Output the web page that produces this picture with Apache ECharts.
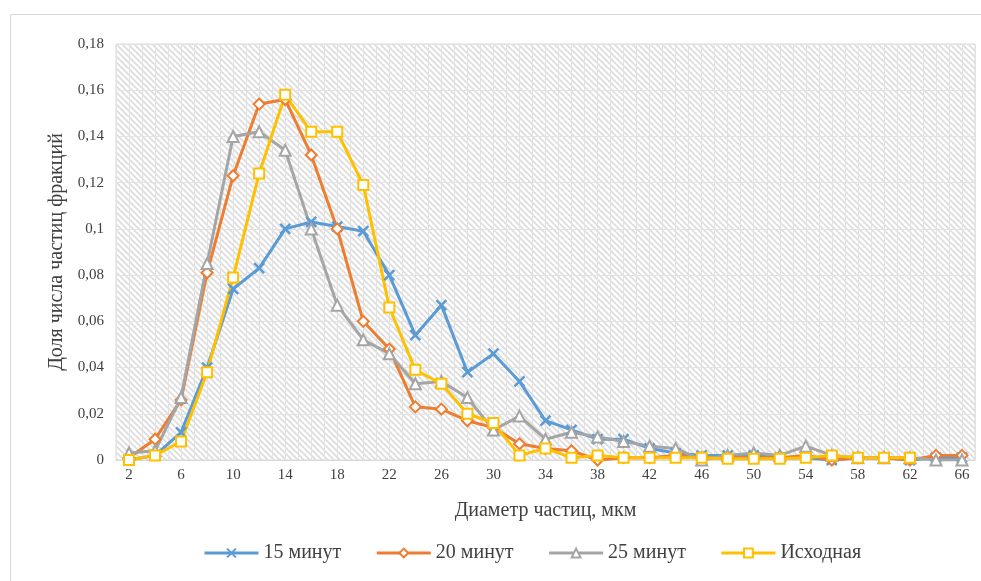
<!DOCTYPE html>
<html>
<head>
<meta charset="utf-8">
<script src="https://cdn.jsdelivr.net/npm/echarts@6/dist/echarts.min.js"></script>
<style>
  html, body { margin: 0; padding: 0; background: #fff; }
  #chart { width: 981px; height: 581px; }
</style>
</head>
<body>
<div id="chart"></div>
<script>
// диаметр частиц, мкм
var diameters = [2,4,6,8,10,12,14,16,18,20,22,24,26,28,30,32,34,36,38,40,42,44,46,48,50,52,54,56,58,60,62,64,66];

var min15 = [0,0.002,0.012,0.04,0.074,0.083,0.1,0.103,0.101,0.099,0.08,0.054,0.067,0.038,0.046,0.034,0.017,0.013,0.009,0.009,0.005,0.003,0.002,0.002,0.002,0.001,0.001,0,0.001,0.001,0,0.001,0.001];
var min20 = [0.001,0.009,0.026,0.081,0.123,0.154,0.156,0.132,0.1,0.06,0.048,0.023,0.022,0.017,0.014,0.007,0.005,0.004,0,0.001,0.001,0.002,0.001,0.001,0.001,0.001,0.002,0,0.001,0.001,0,0.002,0.002];
var min25 = [0.003,0.004,0.027,0.085,0.14,0.142,0.134,0.1,0.067,0.052,0.046,0.033,0.034,0.027,0.013,0.019,0.009,0.012,0.01,0.008,0.006,0.005,0,0.002,0.003,0.002,0.006,0.002,0.001,0.001,0.001,0,0];
var initial = [0,0.002,0.008,0.038,0.079,0.124,0.158,0.142,0.142,0.119,0.066,0.039,0.033,0.02,0.016,0.002,0.005,0.001,0.002,0.001,0.001,0.001,0.001,0.0005,0.0005,0.0005,0.001,0.002,0.001,0.001,0.001,null,null];

// половинки категорий - для вертикальной сетки
var halfCats = [];
for (var i = 0; i < diameters.length * 2; i++) halfCats.push(i);

// штриховка фона области построения
var tile = document.createElement('canvas');
tile.width = 6; tile.height = 6;
var tctx = tile.getContext('2d');
tctx.fillStyle = '#ffffff';
tctx.fillRect(0, 0, 6, 6);
tctx.strokeStyle = '#dcdcdc';
tctx.lineWidth = 1.6;
tctx.beginPath();
tctx.moveTo(-1, -1); tctx.lineTo(7, 7);
tctx.moveTo(-4, 2); tctx.lineTo(2, 8);
tctx.moveTo(2, -4); tctx.lineTo(8, 2);
tctx.stroke();

var font = 'Liberation Serif';
var txtColor = '#404040';
var crossPath = 'path://M0,0L10,10M10,0L0,10';

var chart = echarts.init(document.getElementById('chart'));
var option = {
  backgroundColor: '#fff',
  animation: false,
  textStyle: { fontFamily: font },
  graphic: [{
    type: 'rect',
    shape: { x: 10.5, y: 14.5, width: 990, height: 600 },
    style: { fill: 'none', stroke: '#d9d9d9', lineWidth: 1 },
    z: -10
  }],
  grid: {
    left: 116, right: 6, top: 44, bottom: 121,
    show: true,
    backgroundColor: { image: tile, repeat: 'repeat' },
    borderColor: '#d9d9d9',
    borderWidth: 1
  },
  legend: {
    bottom: 13,
    left: 198,
    itemWidth: 54,
    itemHeight: 11,
    itemGap: 34,
    lineStyle: { width: 3 },
    textStyle: { fontFamily: font, fontSize: 20, color: txtColor },
    data: ['15 минут', '20 минут', '25 минут', 'Исходная']
  },
  xAxis: [{
    type: 'category',
    data: diameters,
    boundaryGap: true,
    name: 'Диаметр частиц, мкм',
    nameLocation: 'middle',
    nameGap: 41,
    nameTextStyle: { fontFamily: font, fontSize: 20, color: txtColor },
    axisLine: { lineStyle: { color: '#d9d9d9' } },
    axisTick: { show: false },
    axisLabel: { interval: 1, fontFamily: font, fontSize: 15, color: txtColor, margin: 8 },
    splitLine: { show: false }
  }, {
    type: 'category',
    data: halfCats,
    position: 'bottom',
    boundaryGap: true,
    axisLine: { show: false },
    axisTick: { show: false },
    axisLabel: { show: false },
    splitLine: { show: true, interval: 0, lineStyle: { color: '#e3e3e3', width: 1 } }
  }],
  yAxis: {
    type: 'value',
    min: 0, max: 0.18, interval: 0.02,
    name: 'Доля числа частиц фракций',
    nameLocation: 'middle',
    nameGap: 44,
    nameTextStyle: { fontFamily: font, fontSize: 20, color: txtColor },
    axisLine: { show: false },
    axisTick: { show: false },
    axisLabel: {
      fontFamily: font, fontSize: 15, color: txtColor, margin: 12,
      formatter: function (v) { return String(Math.round(v * 100) / 100).replace('.', ','); }
    },
    splitLine: { lineStyle: { color: '#e3e3e3' } }
  },
  series: [{
    name: '15 минут', type: 'line', data: min15,
    symbol: crossPath, symbolSize: 10,
    lineStyle: { color: '#5b9bd5', width: 3 },
    itemStyle: { color: '#5b9bd5', borderColor: '#5b9bd5', borderWidth: 2.5 }
  }, {
    name: '20 минут', type: 'line', data: min20,
    symbol: 'emptyDiamond', symbolSize: 11,
    lineStyle: { color: '#ed7d31', width: 3 },
    itemStyle: { color: '#ed7d31', borderWidth: 2.5 }
  }, {
    name: '25 минут', type: 'line', data: min25,
    symbol: 'emptyTriangle', symbolSize: 11,
    lineStyle: { color: '#a5a5a5', width: 3 },
    itemStyle: { color: '#a5a5a5', borderWidth: 2.5 }
  }, {
    name: 'Исходная', type: 'line', data: initial,
    symbol: 'emptyRect', symbolSize: 10,
    lineStyle: { color: '#ffc000', width: 3 },
    itemStyle: { color: '#ffc000', borderWidth: 2.5 }
  }]
};
chart.setOption(option);
</script>
</body>
</html>
